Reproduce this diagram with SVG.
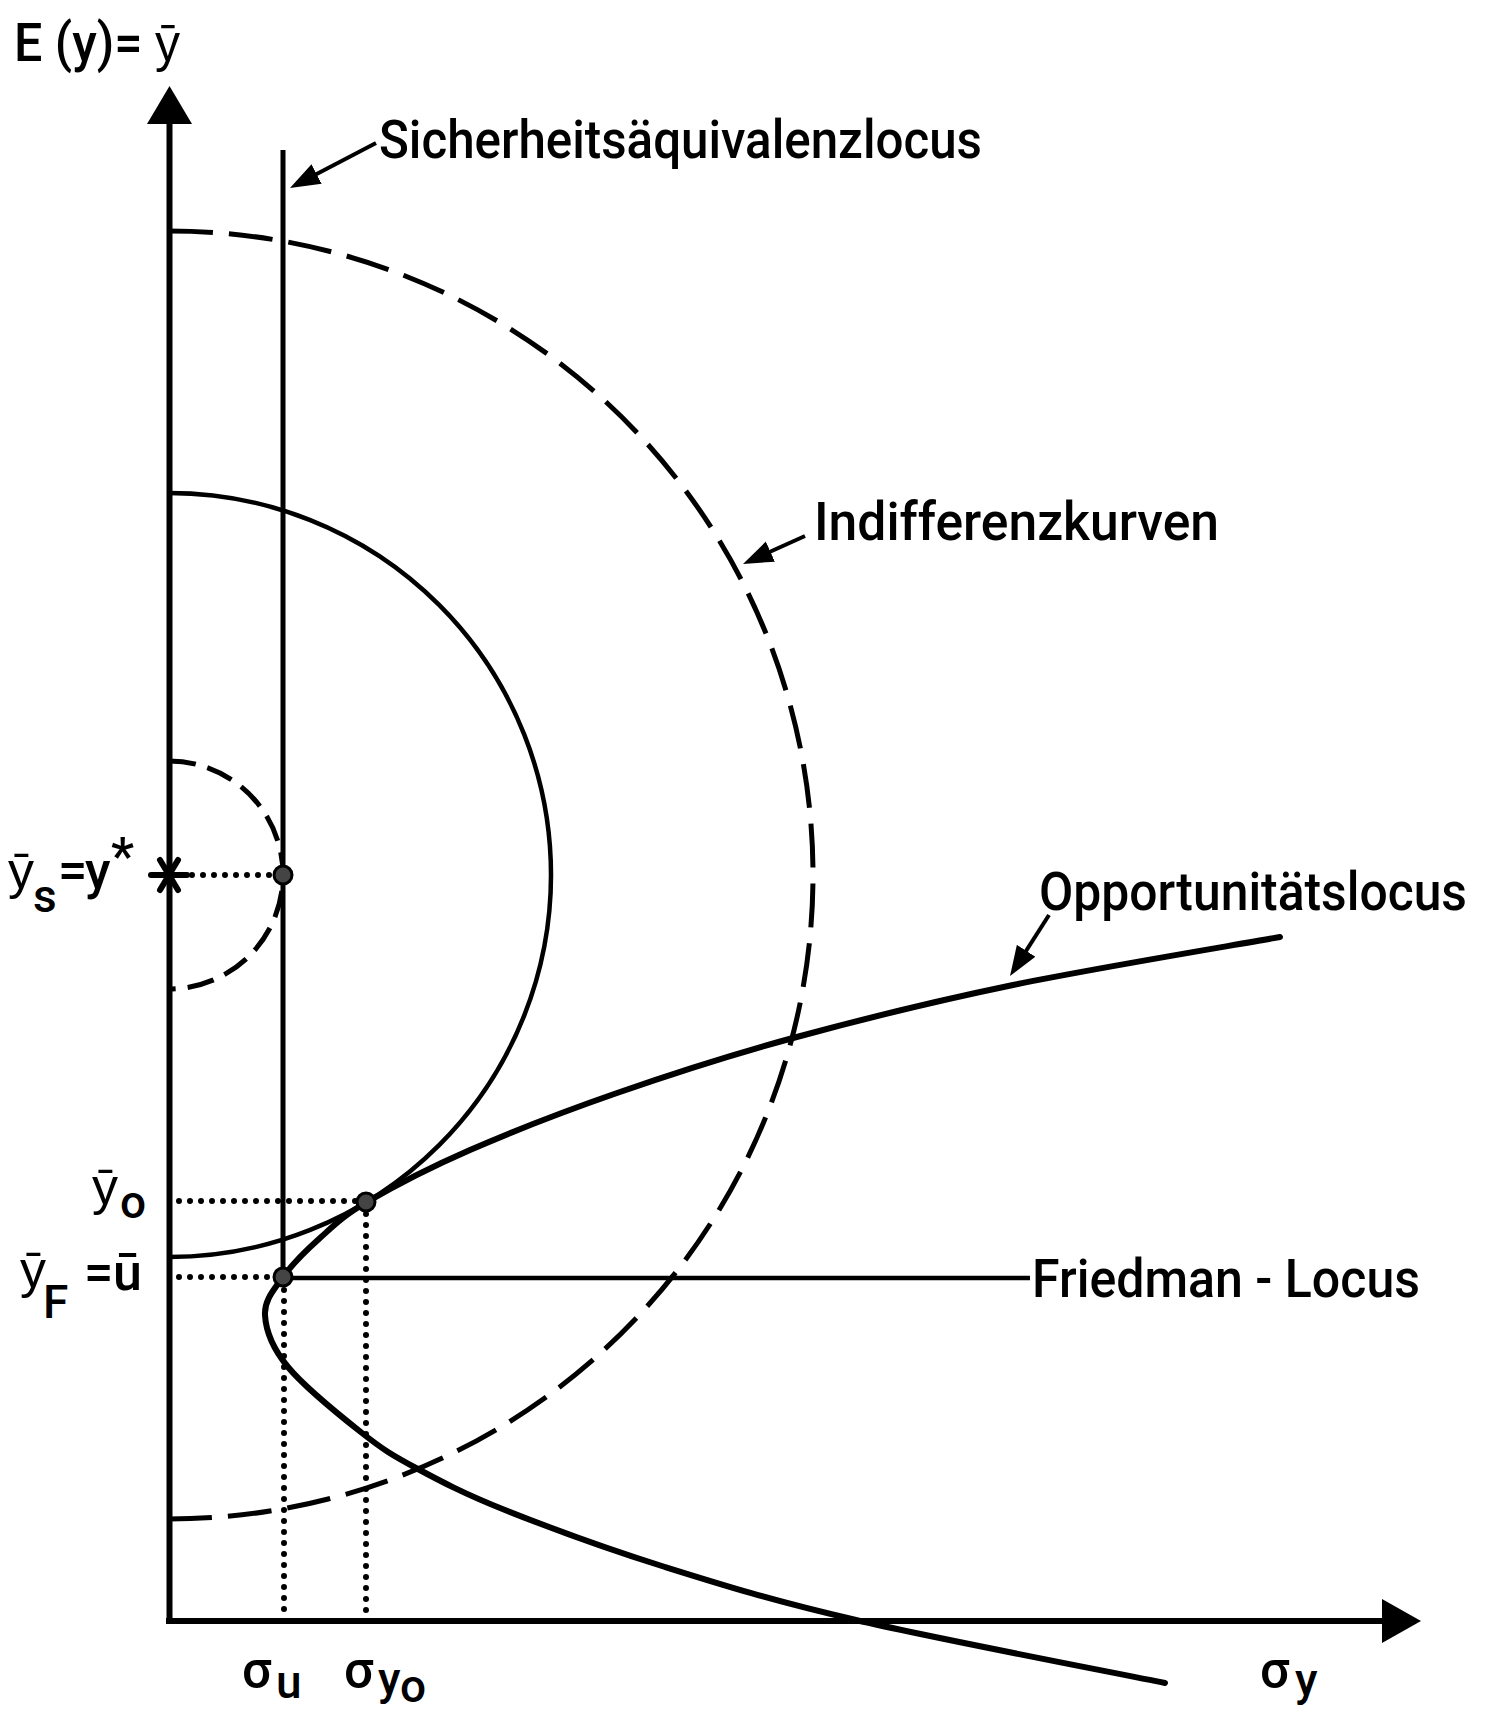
<svg xmlns="http://www.w3.org/2000/svg" width="1492" height="1713" viewBox="0 0 1492 1713">
<style>
text{font-family:Roboto,"Liberation Sans",sans-serif;font-weight:500;fill:#000;font-size:53px}
.lbl{font-size:52px}
.sub{font-size:46px}
.solid{fill:none;stroke:#000;stroke-width:4.5}
.dash{fill:none;stroke:#000;stroke-width:5;stroke-dasharray:44 16}
.dashs{fill:none;stroke:#000;stroke-width:5;stroke-dasharray:27 12}
.dot{fill:none;stroke:#000;stroke-width:6;stroke-dasharray:0 11;stroke-linecap:round}
.pt{fill:#444;stroke:#000;stroke-width:3}
.ptr{fill:none;stroke:#000;stroke-width:4;marker-end:url(#ah)}
</style>
<defs>
<marker id="ah" markerUnits="userSpaceOnUse" markerWidth="32" markerHeight="24" refX="15" refY="11" orient="auto" viewBox="0 0 32 24">
<path d="M0,0 L30,11 L0,22 z" fill="#000"/>
</marker>
</defs>
<rect width="1492" height="1713" fill="#fff"/>
<g id="axes">
<line x1="169.5" y1="120" x2="169.5" y2="1624" stroke="#000" stroke-width="6"/>
<line x1="166" y1="1621" x2="1386" y2="1621" stroke="#000" stroke-width="6"/>
<polygon points="169.5,86 147,124 192,124" fill="#000"/>
<polygon points="1421,1621 1382,1599 1382,1643" fill="#000"/>
</g>
<g id="indifference-curves">
<path class="dash" d="M169,231 A644,644 0 0 1 169,1519"/>
<path class="solid" d="M169,493 A382,382 0 0 1 169,1257"/>
<path class="dashs" d="M169,761 A114,114 0 0 1 169,989"/>
</g>
<g id="sicherheitsaequivalenzlocus">
<line x1="283" y1="150" x2="283" y2="1277" stroke="#000" stroke-width="5"/>
</g>
<g id="friedman-locus">
<line x1="283" y1="1278" x2="1030" y2="1278" stroke="#000" stroke-width="4.5"/>
</g>
<g id="opportunitaetslocus">
<path fill="none" stroke="#000" stroke-width="6" stroke-linecap="round" d="M1165,1683 C1113.5,1672.5 939.3,1639.3 856,1620 C772.7,1600.7 723.5,1585.3 665,1567 C606.5,1548.7 546.5,1526.5 505,1510 C463.5,1493.5 439.8,1480.8 416,1468 C392.2,1455.2 383.3,1449.8 362,1433 C340.7,1416.2 304.2,1386.7 288,1367 C271.8,1347.3 265.8,1330 265,1315 C264.2,1300 273.8,1289.8 283,1277 C292.2,1264.2 306,1250.5 320,1238 C334,1225.5 342,1216.7 367,1202 C392,1187.3 428.3,1168.2 470,1150 C511.7,1131.8 563.2,1111.7 617,1093 C670.8,1074.3 727,1056 793,1038 C859,1020 931.8,1001.8 1013,985 C1094.2,968.2 1235.5,945 1280,937"/>
</g>
<g id="guides">
<line class="dot" x1="192" y1="875" x2="270" y2="875"/>
<line class="dot" x1="179" y1="1201" x2="356" y2="1201"/>
<line class="dot" x1="179" y1="1277" x2="272" y2="1277"/>
<line class="dot" x1="284" y1="1290" x2="284" y2="1614"/>
<line class="dot" x1="366" y1="1214" x2="366" y2="1614"/>
</g>
<g id="points">
<g id="star" stroke="#000" stroke-width="6" stroke-linecap="round">
<line x1="151" y1="875" x2="187" y2="875"/>
<line x1="160" y1="860" x2="178" y2="890"/>
<line x1="160" y1="890" x2="178" y2="860"/>
</g>
<circle class="pt" cx="283" cy="875" r="9"/>
<circle class="pt" cx="366" cy="1202" r="9"/>
<circle class="pt" cx="283" cy="1277" r="9"/>
</g>
<g id="connectors">
<line class="ptr" x1="376" y1="143" x2="303.3" y2="181"/>
<line class="ptr" x1="805" y1="536" x2="756.7" y2="557.8"/>
<line class="ptr" x1="1049" y1="915" x2="1018.1" y2="963.4"/>
</g>
<g id="labels">
<text x="14" y="61" textLength="166" lengthAdjust="spacingAndGlyphs">E (y)= ȳ</text>
<text x="379" y="158" textLength="603" lengthAdjust="spacingAndGlyphs">Sicherheitsäquivalenzlocus</text>
<text x="814" y="540" textLength="405" lengthAdjust="spacingAndGlyphs">Indifferenzkurven</text>
<text x="1039" y="910" textLength="428" lengthAdjust="spacingAndGlyphs">Opportunitätslocus</text>
<text x="1032" y="1297" textLength="388" lengthAdjust="spacingAndGlyphs">Friedman - Locus</text>
<text class="lbl" x="8" y="888">ȳ<tspan class="sub" x="33" y="912">s</tspan><tspan x="58" y="888">=</tspan><tspan x="85" y="888">y</tspan><tspan x="111" y="874">*</tspan></text>
<text class="lbl" x="92" y="1204">ȳ<tspan class="sub" x="120" y="1218">o</tspan></text>
<text class="lbl" x="20" y="1287">ȳ<tspan class="sub" x="43" y="1318">F</tspan><tspan x="84" y="1290">=</tspan><tspan x="113" y="1290">ū</tspan></text>
<text class="lbl" x="242" y="1687">σ<tspan class="sub" x="276" y="1698">u</tspan></text>
<text class="lbl" x="344" y="1687">σ<tspan class="sub" x="378" y="1695">y</tspan><tspan class="sub" font-size="36" x="400" y="1702">o</tspan></text>
<text class="lbl" x="1260" y="1687">σ<tspan class="sub" x="1295" y="1696">y</tspan></text>
</g>
</svg>
